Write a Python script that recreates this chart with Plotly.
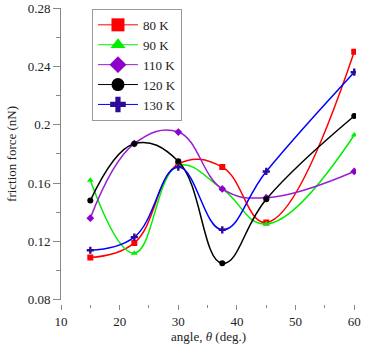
import plotly.graph_objects as go

angles = [15, 22.5, 30, 37.5, 45, 60]
f_80K = [0.109, 0.119, 0.173, 0.171, 0.133, 0.250]
f_90K = [0.162, 0.112, 0.172, 0.156, 0.132, 0.193]
f_110K = [0.136, 0.187, 0.195, 0.156, 0.150, 0.168]
f_120K = [0.148, 0.187, 0.175, 0.105, 0.149, 0.206]
f_130K = [0.114, 0.123, 0.171, 0.128, 0.168, 0.236]

series = [
    ("80 K", f_80K, "#ff0000", "#ff0000", "square"),
    ("90 K", f_90K, "#00ee00", "#00ee00", "triangle-up"),
    ("110 K", f_110K, "#9b1fd1", "#8f00cc", "diamond"),
    ("120 K", f_120K, "#000000", "#000000", "circle"),
    ("130 K", f_130K, "#0000ff", "#2e0a99", "cross"),
]

x_ticks = [10, 20, 30, 40, 50, 60]
y_ticks = [0.08, 0.12, 0.16, 0.2, 0.24, 0.28]
y_ticktext = ["0.08", "0.12", "0.16", "0.2", "0.24", "0.28"]

fig = go.Figure()
for name, vals, lc, mc, sym in series:
    fig.add_trace(go.Scatter(
        x=angles, y=vals, name=name, mode="lines+markers", showlegend=False,
        line=dict(color=lc, width=1.5, shape="spline", smoothing=1.2),
        marker=dict(symbol=sym, color=mc, size=6),
    ))
# legend proxies (thin line, large marker)
for name, vals, lc, mc, sym in series:
    fig.add_trace(go.Scatter(
        x=[None], y=[None], name=name, mode="lines+markers", showlegend=True,
        line=dict(color=lc, width=1),
        marker=dict(symbol=sym, color=mc, size=13),
    ))

font = "Liberation Serif"
fig.update_layout(
    width=368, height=349,
    margin=dict(l=61, r=12, t=8, b=45, autoexpand=False),
    paper_bgcolor="white", plot_bgcolor="white",
    font=dict(family=font, size=13, color="#222"),
    showlegend=True,
    legend=dict(
        x=0.105, y=0.997, xanchor="left", yanchor="top",
        bordercolor="#999", borderwidth=1, bgcolor="white",
        itemsizing="trace", font=dict(size=13, family=font),
        tracegroupgap=0, itemwidth=40,
    ),
    xaxis=dict(
        range=[10, 60.3], anchor="free", position=0, automargin=False,
        tickvals=x_ticks, showgrid=False, zeroline=False, showline=False,
        ticks="outside", ticklen=5, tickcolor="#888",
        tickfont=dict(family=font, size=13),
        minor=dict(dtick=5, tick0=10, ticks="outside", ticklen=3, tickcolor="#888"),
        title=dict(text="angle, <i>θ</i> (deg.)", font=dict(size=13, family=font), standoff=2),
    ),
    yaxis=dict(
        range=[0.08, 0.28], domain=[0.014, 1], automargin=False,
        tickvals=y_ticks, ticktext=y_ticktext, showgrid=False, zeroline=False,
        showline=True, linecolor="#888", linewidth=1,
        ticks="outside", ticklen=7, tickcolor="#888",
        tickfont=dict(family=font, size=13),
        minor=dict(dtick=0.02, tick0=0.08, ticks="outside", ticklen=4, tickcolor="#888"),
        title=dict(text="friction force (nN)", font=dict(size=13, family=font), standoff=8),
    ),
)

fig.write_html("out.html", config={"displayModeBar": False},
               post_script="document.body.style.margin='0';")
